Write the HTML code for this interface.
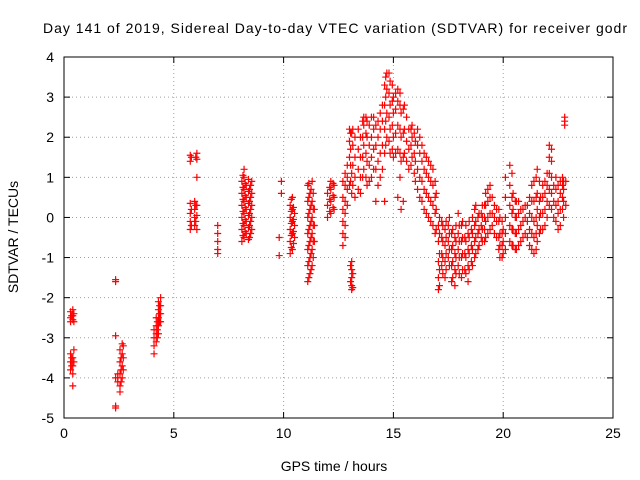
<!DOCTYPE html>
<html><head><meta charset="utf-8"><style>
html,body{margin:0;padding:0;background:#fff;}
svg{display:block;font-family:"Liberation Sans",sans-serif;}
</style></head><body>
<svg id="chart" width="640" height="480" viewBox="0 0 640 480">
<rect width="640" height="480" fill="#fff"/>
<text x="43" y="33" font-size="14" textLength="584" lengthAdjust="spacing" fill="#000">Day 141 of 2019, Sidereal Day-to-day VTEC variation (SDTVAR) for receiver godr</text>
<g id="grid"></g>
<g id="ticks"></g>
<g id="marks"></g>
<rect x="64" y="57" width="549" height="361" fill="none" stroke="#000" stroke-width="1"/>
<text x="334" y="471" font-size="14" text-anchor="middle">GPS time / hours</text>
<text transform="translate(18,237) rotate(-90)" font-size="14" text-anchor="middle">SDTVAR / TECUs</text>
</svg>
<script>
const xTicks=[0,5,10,15,20,25];
const yTicks=[-5,-4,-3,-2,-1,0,1,2,3,4];
const clusterHours=[0.3,0.4,0.45,2.35,2.45,2.55,2.65,2.7,4.1,4.2,4.3,4.4,5.75,5.95,6.05,7.0,8.1,8.2,8.3,8.45,8.55,9.8,9.9,10.3,10.4,10.5,11.1,11.2,11.3,11.4,12.0,12.15,12.3,12.7,12.9,13.0,13.1,13.25,13.5,13.65,13.8,14.0,14.2,14.4,14.6,14.7,14.85,15.0,15.2,15.35,15.5,15.7,15.85,16.0,16.2,16.4,16.6,16.8,16.95,17.05,17.2,17.35,17.5,17.65,17.8,17.95,18.1,18.25,18.4,18.55,18.7,18.85,19.0,19.15,19.3,19.5,19.7,19.85,20.0,20.3,20.45,20.6,20.8,21.0,21.2,21.4,21.55,21.7,21.9,22.1,22.3,22.5,22.7,22.8,22.85];
const clusterValues=[
[-2.35,-2.5,-2.6,-3.4,-3.6,-3.8],[-2.3,-2.45,-2.55,-3.5,-3.7,-3.9,-4.2],[-2.4,-2.6,-3.3,-3.6],
[-1.55,-1.6,-2.95,-4.0,-4.7,-4.75],[-3.9,-4.0,-4.1],[-3.3,-3.6,-3.9,-4.2,-4.35],[-3.15,-3.4,-3.7,-4.0],[-3.2,-3.5,-3.8],
[-2.8,-3.0,-3.2,-3.4],[-2.5,-2.7,-2.9,-3.1],[-2.1,-2.3,-2.5,-2.7,-2.9],[-2.0,-2.2,-2.4,-2.6],
[-0.3,-0.1,0.1,0.35,1.4,1.55],[-0.2,0.0,0.2,0.4],[-0.3,0.05,0.3,1.0,1.45,1.6],[-0.2,-0.4,-0.6,-0.8,-0.9],
[-0.6,-0.3,0.0,0.3,0.6,0.9],[-0.5,-0.2,0.1,0.4,0.7,1.0,1.2],[-0.4,-0.1,0.2,0.5,0.8],[-0.5,-0.2,0.1,0.4,0.7],[-0.3,0.0,0.3,0.6,0.9],
[-0.5,-0.95],[0.9,0.6],[-0.9,-0.6,-0.3,0.0,0.3],[-0.8,-0.4,-0.1,0.2,0.5],[-0.5,-0.2,0.1],
[-1.6,-1.2,-0.8,-0.4,0.0,0.4,0.8],[-1.4,-1.0,-0.6,-0.2,0.2,0.6],[-1.2,-0.8,-0.4,0.0,0.4,0.9],[-0.6,-0.2,0.2],
[0.0,0.3,0.6],[0.1,0.4,0.7,0.9],[0.2,0.5,0.8],[-0.7,-0.4,-0.1,0.2,0.5,0.9],[0.3,0.7,1.0,1.3],[1.5,1.9,2.2,0.8],
[-1.1,-1.3,-1.5,-1.7,-1.8,0.6,1.1,2.1],[0.5,1.0,1.5,2.0],[0.6,1.0,1.5,2.0],[1.2,1.8,2.3,2.5],[0.8,1.4,2.0,2.4],
[1.0,1.5,2.0,2.5],[0.4,1.2,1.8,2.3],[1.0,1.6,2.2,2.6],[0.4,1.6,2.2,2.8,3.3],[2.0,2.6,3.2,3.6],[1.6,2.2,2.8,3.4],
[1.5,2.0,2.6,3.0],[0.5,1.7,2.3,2.9,3.2],[0.2,1.4,2.0,2.6],[1.6,2.2,2.8],[1.2,1.7,2.2],[1.5,2.0,2.3],[0.9,1.4,1.9],
[0.5,1.0,1.6,2.0],[0.2,0.7,1.2,1.6],[0.0,0.5,1.0,1.4],[-0.2,0.3,0.8,1.2],[-0.3,0.2,0.6],
[-1.8,-1.5,-1.1,-0.6,-0.2],[-1.2,-0.9,-0.5,-0.1],[-1.5,-1.1,-0.7,-0.3],[-1.0,-0.6,-0.2],[-1.6,-1.2,-0.8,-0.4],
[-1.7,-1.3,-0.9,-0.5],[-1.2,-0.8,-0.4,0.1],[-1.5,-1.0,-0.6,-0.2],[-1.3,-0.9,-0.5],[-1.6,-1.2,-0.8,-0.4],
[-1.1,-0.7,-0.3],[-1.0,-0.6,-0.2,0.2],[-0.8,-0.4,0.0],[-0.5,-0.2,0.1],[-0.6,-0.3,0.0,0.3],[-0.4,0.0,0.4,0.7],
[-0.2,0.1,0.5],[-0.5,-0.1,0.2],[-1.0,-0.7,-0.4,0.0],[-0.9,-0.6,-0.3],[-0.6,-0.2,0.3,0.8,1.3],[-0.7,-0.3,0.2,0.6],
[-0.8,-0.4,0.0,0.4],[-0.6,-0.2,0.2],[-0.4,0.0,0.3],[-0.7,-0.3,0.1,0.5],[-0.9,-0.5,-0.1,0.4,0.9],
[-0.6,-0.2,0.2,0.6,1.2],[-0.3,0.1,0.5],[-0.2,0.2,0.6,0.9],[0.3,0.7,1.1,1.5,1.8],[0.0,0.4,0.8],
[-0.3,0.1,0.4,0.8],[0.2,0.5,0.8,1.0],[2.3,2.4,2.5],[0.3,0.9]
];
const extraHours=[0.35,2.6,4.25,4.35,5.8,6.0,8.15,8.25,8.4,8.5,10.35,10.45,11.15,11.25,11.35,12.1,12.25,12.8,13.05,13.15,13.4,13.6,13.75,13.9,14.1,14.3,14.5,14.65,14.8,14.95,15.1,15.3,15.45,15.6,15.8,15.95,16.1,16.3,16.5,16.7,16.9,17.1,17.25,17.4,17.55,17.7,17.85,18.0,18.15,18.3,18.45,18.6,18.75,18.9,19.05,19.2,19.4,19.6,19.8,19.95,20.1,20.4,20.55,20.7,20.9,21.1,21.3,21.5,21.65,21.8,22.0,22.2,22.4,22.6,22.75];
const extraValues=[
[-2.45,-3.5,-3.7],[-3.5,-3.8,-4.1],[-2.6,-2.8,-3.0],[-2.2,-2.4,-2.6],[-0.2,0.2,1.5],[-0.1,0.3,1.5],
[-0.45,-0.15,0.15,0.45,0.75,1.05],[-0.35,-0.05,0.25,0.55,0.85],[-0.55,-0.25,0.05,0.35,0.65,0.95],[-0.4,-0.1,0.2,0.5,0.8],
[-0.75,-0.45,-0.15,0.15,0.45],[-0.65,-0.35,-0.05,0.25],[-1.5,-1.1,-0.7,-0.3,0.1,0.5,0.85],[-1.3,-0.9,-0.5,-0.1,0.3,0.7],[-1.0,-0.6,-0.2,0.2,0.6],
[0.15,0.45,0.75],[0.25,0.55,0.85],[-0.5,-0.2,0.1,0.4,0.8,1.1],[-1.2,-1.6,0.9,1.3,1.7,2.1],[-1.4,-1.75,0.8,1.3,1.8,2.2],
[0.7,1.2,1.7,2.2],[1.0,1.5,2.0,2.4],[1.0,1.6,2.1,2.5],[0.9,1.3,1.8,2.3],[1.2,1.7,2.2,2.5],[0.8,1.4,2.0,2.4],
[1.2,1.8,2.4,2.8],[1.8,2.4,3.0,3.5],[1.9,2.5,3.1,3.6],[1.7,2.3,2.9,3.3],[1.6,2.1,2.7,3.1],[1.0,1.6,2.2,2.8,3.1],
[0.4,1.5,2.1,2.7],[1.4,1.9,2.5],[1.3,1.8,2.2],[1.1,1.6,2.1],[0.7,1.2,1.8,2.2],[0.4,0.9,1.4,1.8],
[0.1,0.6,1.1,1.5],[-0.1,0.4,0.9,1.3],[-0.4,0.1,0.5,0.9],[-1.7,-1.3,-0.9,-0.4,0.0],[-1.4,-1.0,-0.6,-0.2],
[-1.3,-0.9,-0.5,-0.1],[-1.2,-0.8,-0.4,0.0],[-1.5,-1.1,-0.7,-0.3],[-1.4,-1.0,-0.6,-0.2],[-1.4,-1.0,-0.6,-0.2],
[-1.3,-0.9,-0.5,-0.1],[-1.4,-1.0,-0.6,-0.2],[-1.3,-0.9,-0.5,-0.1],[-1.2,-0.8,-0.4,0.0],[-0.9,-0.5,-0.1,0.3],
[-0.7,-0.3,0.1],[-0.6,-0.3,0.0,0.3],[-0.5,-0.1,0.3,0.6],[-0.3,0.1,0.5,0.8],[-0.4,0.0,0.3],[-0.8,-0.5,-0.1,0.2],
[-1.0,-0.7,-0.4,-0.1],[-0.8,-0.4,0.0,0.5,1.0],[-0.7,-0.3,0.1,0.5,1.1],[-0.8,-0.4,0.0,0.4],[-0.7,-0.3,0.1,0.4],
[-0.5,-0.1,0.2],[-0.5,-0.1,0.3],[-0.8,-0.4,0.0,0.4,0.8],[-0.8,-0.4,0.0,0.5,1.0],[-0.4,0.0,0.4,0.9],
[-0.3,0.1,0.5,0.8],[0.0,0.4,0.8,1.1],[0.2,0.6,1.0,1.4,1.7],[-0.1,0.3,0.7,1.0],[-0.2,0.2,0.6,0.9],[0.0,0.4,0.7,0.9]
];
const NS="http://www.w3.org/2000/svg";
const X0=64,X1=613,Y0=418,Y1=57;
function xs(v){return X0+(v-0)/(25-0)*(X1-X0);}
function ys(v){return Y0-(v+5)/(4+5)*(Y0-Y1);}
function mk(tag,attrs,parent){const e=document.createElementNS(NS,tag);for(const k in attrs)e.setAttribute(k,attrs[k]);parent.appendChild(e);return e;}
const grid=document.getElementById('grid'),ticks=document.getElementById('ticks'),marks=document.getElementById('marks');
xTicks.forEach(t=>{
  const x=xs(t);
  if(t>0&&t<25){const g=mk('line',{x1:x,x2:x,y1:Y1,y2:Y0,stroke:'#a0a0a0','stroke-dasharray':'1,3'},grid);
  
  }
  mk('line',{x1:x,x2:x,y1:Y0,y2:Y0-6,stroke:'#000'},ticks);
  mk('line',{x1:x,x2:x,y1:Y1,y2:Y1+6,stroke:'#000'},ticks);
  const l=mk('text',{x:x,y:Y0+20,'font-size':14,'text-anchor':'middle'},ticks);l.textContent=t;
  
  
});
yTicks.forEach(t=>{
  const y=ys(t);
  if(t>-5&&t<4){const g=mk('line',{x1:X0,x2:X1,y1:y,y2:y,stroke:'#a0a0a0','stroke-dasharray':'1,3'},grid);
  
  }
  mk('line',{x1:X0,x2:X0+6,y1:y,y2:y,stroke:'#000'},ticks);
  mk('line',{x1:X1,x2:X1-6,y1:y,y2:y,stroke:'#000'},ticks);
  const l=mk('text',{x:X0-10,y:y+5,'font-size':14,'text-anchor':'end'},ticks);l.textContent=t;
  
  
});
function drawSet(hours,vals){
  hours.forEach((h,i)=>{
    vals[i].forEach(v=>{
      const x=xs(h),y=ys(v);
      const p=mk('path',{d:`M${x-3.5},${y}h7M${x},${y-3.5}v7`,stroke:'#ff0000','stroke-width':1.2,fill:'none'},marks);
      
      
    });
  });
}
drawSet(clusterHours,clusterValues);
drawSet(extraHours,extraValues);
</script>
</body></html>
